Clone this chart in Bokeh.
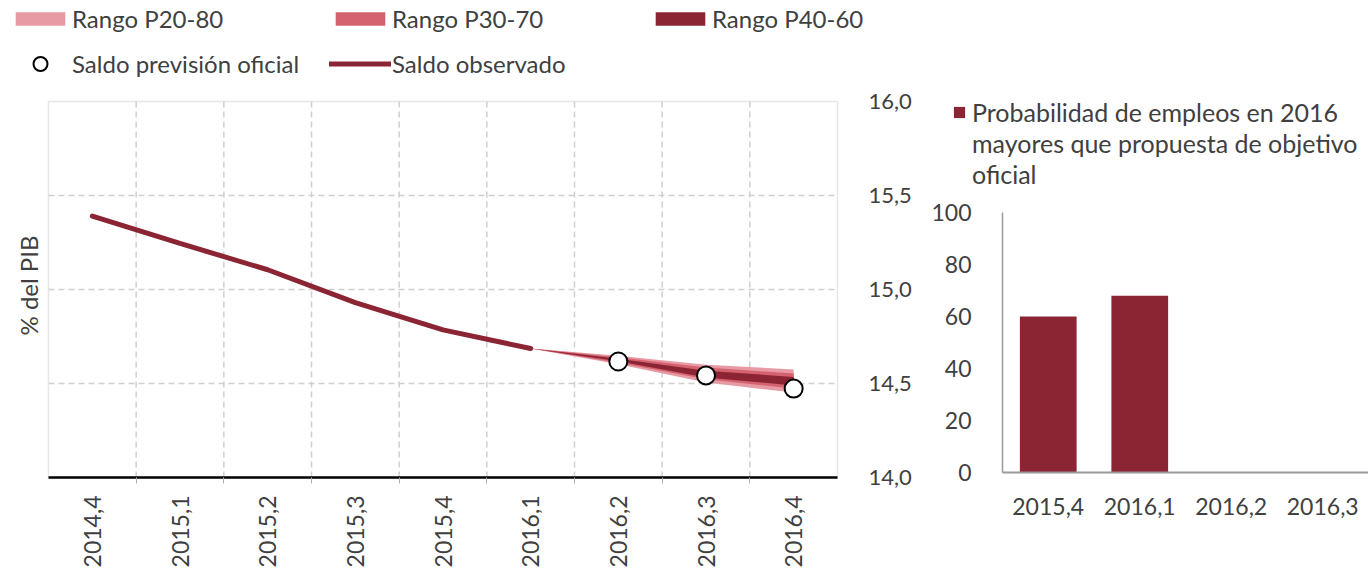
import numpy as np
from bokeh.plotting import figure
from bokeh.models import (FixedTicker, CustomJSTickFormatter, Legend, LegendItem,
                          Range1d, BoxAnnotation, Label)
from bokeh.layouts import row
from bokeh.embed import file_html
from bokeh.resources import INLINE

# ---------------- data ----------------
quarters = ["2014,4", "2015,1", "2015,2", "2015,3", "2015,4",
            "2016,1", "2016,2", "2016,3", "2016,4"]
observed_q = ["2014,4", "2015,1", "2015,2", "2015,3", "2015,4", "2016,1"]
observed = [15.39, 15.245, 15.105, 14.93, 14.785, 14.686]
official_q = ["2016,2", "2016,3", "2016,4"]
official = [14.617, 14.543, 14.473]
fan_q = ["2016,1", "2016,2", "2016,3", "2016,4"]
p20 = [14.686, 14.603, 14.505, 14.452]
p80 = [14.686, 14.648, 14.600, 14.575]
p30 = [14.686, 14.610, 14.522, 14.473]
p70 = [14.686, 14.640, 14.585, 14.553]
p40 = [14.686, 14.618, 14.532, 14.490]
p60 = [14.686, 14.632, 14.568, 14.535]
y_ticks = [14.0, 14.5, 15.0, 15.5, 16.0]

prob_q = ["2015,4", "2016,1", "2016,2", "2016,3"]
prob = [60, 68, 0, 0]
prob_ticks = [0, 20, 40, 60, 80, 100]

# ---------------- style ----------------
FONT = "Lato"
TXT = "#404040"
C_LIGHT = "#E79AA4"
C_MID = "#D5626F"
C_DARK = "#8B2433"
GRID = "#cfcfcf"
BOX = "#b0b0b0"
TICK_FS = "23px"

pos = {q: i for i, q in enumerate(quarters)}
obs_x = [pos[q] for q in observed_q]
off_x = [pos[q] for q in official_q]
fan_x = [pos[q] for q in fan_q]
n = len(quarters)

H = 569
W1 = 925
W2 = 1368 - W1

# pixel layout of the left plot box
L_LEFT, L_RIGHT, L_TOP, L_BOTTOM = 48, 837, 101, 477
ux = (L_RIGHT - L_LEFT) / n
uy = (L_BOTTOM - L_TOP) / (y_ticks[-1] - y_ticks[0])

# ---------------- left chart (frame = whole canvas, axes at fixed locations) ----------------
p = figure(width=W1, height=H,
           x_range=Range1d(-0.5 - L_LEFT / ux, n - 0.5 + (W1 - L_RIGHT) / ux),
           y_range=Range1d(y_ticks[0] - (H - L_BOTTOM) / uy, y_ticks[-1] + L_TOP / uy),
           y_axis_location="right", output_backend="svg", toolbar_location=None,
           min_border_left=0, min_border_right=0, min_border_top=0, min_border_bottom=0)
p.outline_line_color = None
p.grid.grid_line_color = None

p.add_layout(BoxAnnotation(left=-0.5, right=n - 0.5, bottom=y_ticks[0], top=y_ticks[-1],
                           fill_alpha=0, line_color=BOX, line_width=1.5, level="underlay"))
bounds = [i + 0.5 for i in range(n - 1)]
p.segment(x0=bounds, x1=bounds, y0=[y_ticks[0]] * len(bounds), y1=[y_ticks[-1]] * len(bounds),
          line_color=GRID, line_width=1.5, line_dash="6 4")
inner = y_ticks[1:-1]
p.segment(x0=[-0.5] * len(inner), x1=[n - 0.5] * len(inner), y0=inner, y1=inner,
          line_color=GRID, line_width=1.5, line_dash="6 4")

r20 = p.varea(x=fan_x, y1=p20, y2=p80, fill_color=C_LIGHT)
r30 = p.varea(x=fan_x, y1=p30, y2=p70, fill_color=C_MID)
r40 = p.varea(x=fan_x, y1=p40, y2=p60, fill_color=C_DARK)
rl = p.line(obs_x, observed, line_width=5, line_color=C_DARK, line_cap="round")
rc = p.scatter(off_x, official, size=18, fill_color="white", line_color="black",
               line_width=2)

ya = p.yaxis[0]
ya.fixed_location = n - 0.5
ya.ticker = FixedTicker(ticks=y_ticks)
ya.bounds = (y_ticks[0], y_ticks[-1])
ya.formatter = CustomJSTickFormatter(code="return tick.toFixed(1).replace('.', ',')")
ya.axis_line_color = None
ya.major_tick_line_color = None
ya.minor_tick_line_color = None
ya.major_label_standoff = 25
ya.major_label_text_font = FONT
ya.major_label_text_font_size = "22px"
ya.major_label_text_color = TXT

xa = p.xaxis[0]
xa.fixed_location = y_ticks[0]
xa.ticker = FixedTicker(ticks=list(range(n)), minor_ticks=bounds)
xa.bounds = (-0.5, n - 0.5)
xa.formatter = CustomJSTickFormatter(args=dict(labels=quarters),
                                     code="const i = Math.round(tick); return labels[i] || '';")
xa.major_label_orientation = np.pi / 2
xa.axis_line_color = "black"
xa.axis_line_width = 2.5
xa.major_tick_line_color = None
xa.minor_tick_line_color = BOX
xa.minor_tick_out = 6
xa.minor_tick_in = 0
xa.major_label_standoff = 12
xa.major_label_text_font = FONT
xa.major_label_text_font_size = TICK_FS
xa.major_label_text_color = TXT

p.add_layout(Label(x=-0.5 - (L_LEFT - 28) / ux, y=y_ticks[-1] - (285 - L_TOP) / uy,
                   text="% del PIB", angle=np.pi / 2, text_align="center",
                   text_baseline="middle", text_font=FONT, text_font_size="24px",
                   text_color=TXT))

leg_common = dict(orientation="horizontal", glyph_width=62, label_standoff=1,
                  label_width=257, spacing=0, label_height=29, padding=0, margin=0,
                  border_line_color=None, background_fill_alpha=0,
                  label_text_font=FONT, label_text_font_size="24px",
                  label_text_color=TXT)
leg_a = Legend(items=[
    LegendItem(label="Rango P20-80", renderers=[r20]),
    LegendItem(label="Rango P30-70", renderers=[r30]),
    LegendItem(label="Rango P40-60", renderers=[r40]),
], location=(9, H - 32.5), glyph_height=17, **leg_common)
leg_b = Legend(items=[
    LegendItem(label="Saldo previsión oficial", renderers=[rc]),
    LegendItem(label="Saldo observado", renderers=[rl]),
], location=(9, H - 80.5), glyph_height=35, **leg_common)
p.add_layout(leg_a)
p.add_layout(leg_b)

# ---------------- right chart ----------------
R_LEFT, R_RIGHT = 1002, 1368
R_ZERO, R_HUNDRED = 472, 212
m = len(prob_q)
prob_x = list(range(m))
ux2 = (R_RIGHT - R_LEFT) / m
uy2 = (R_ZERO - R_HUNDRED) / (prob_ticks[-1] - prob_ticks[0])
q = figure(width=W2, height=H,
           x_range=Range1d(-0.5 - (R_LEFT - W1) / ux2, m - 0.5),
           y_range=Range1d(-(H - R_ZERO) / uy2, prob_ticks[-1] + R_HUNDRED / uy2),
           output_backend="svg", toolbar_location=None,
           min_border_left=0, min_border_right=0, min_border_top=0, min_border_bottom=0)
q.outline_line_color = None
q.grid.grid_line_color = None
rb = q.vbar(x=prob_x, top=prob, bottom=0, width=0.62, fill_color=C_DARK, line_color=None)
rblank = q.vbar(x=[], top=[], width=0.5, fill_alpha=0, line_alpha=0)

qy = q.yaxis[0]
qy.fixed_location = -0.5
qy.ticker = FixedTicker(ticks=prob_ticks)
qy.bounds = (prob_ticks[0], prob_ticks[-1])
qy.axis_line_color = "#9a9a9a"
qy.axis_line_width = 1.5
qy.major_tick_line_color = None
qy.minor_tick_line_color = None
qy.major_label_standoff = 25
qy.major_label_text_font = FONT
qy.major_label_text_font_size = TICK_FS
qy.major_label_text_color = TXT

qx = q.xaxis[0]
qx.fixed_location = 0
qx.ticker = FixedTicker(ticks=prob_x)
qx.bounds = (-0.5, m - 0.5)
qx.formatter = CustomJSTickFormatter(args=dict(labels=prob_q),
                                     code="const i = Math.round(tick); return labels[i] || '';")
qx.axis_line_color = "#9a9a9a"
qx.axis_line_width = 2
qx.major_tick_line_color = None
qx.minor_tick_line_color = None
qx.major_label_standoff = 19
qx.major_label_text_font = FONT
qx.major_label_text_font_size = TICK_FS
qx.major_label_text_color = TXT

leg2 = Legend(items=[
    LegendItem(label="Probabilidad de empleos en 2016", renderers=[rb]),
    LegendItem(label="mayores que propuesta de objetivo", renderers=[rblank]),
    LegendItem(label="oficial", renderers=[rblank]),
], location=(952 - W1, H - 189), glyph_width=14, glyph_height=14,
    label_height=30, spacing=1, label_standoff=6, padding=0, margin=0,
    border_line_color=None, background_fill_alpha=0, label_text_font=FONT,
    label_text_font_size="25px", label_text_color=TXT)
q.add_layout(leg2)

layout = row(p, q)
open("out.html", "w").write(file_html(layout, INLINE))
